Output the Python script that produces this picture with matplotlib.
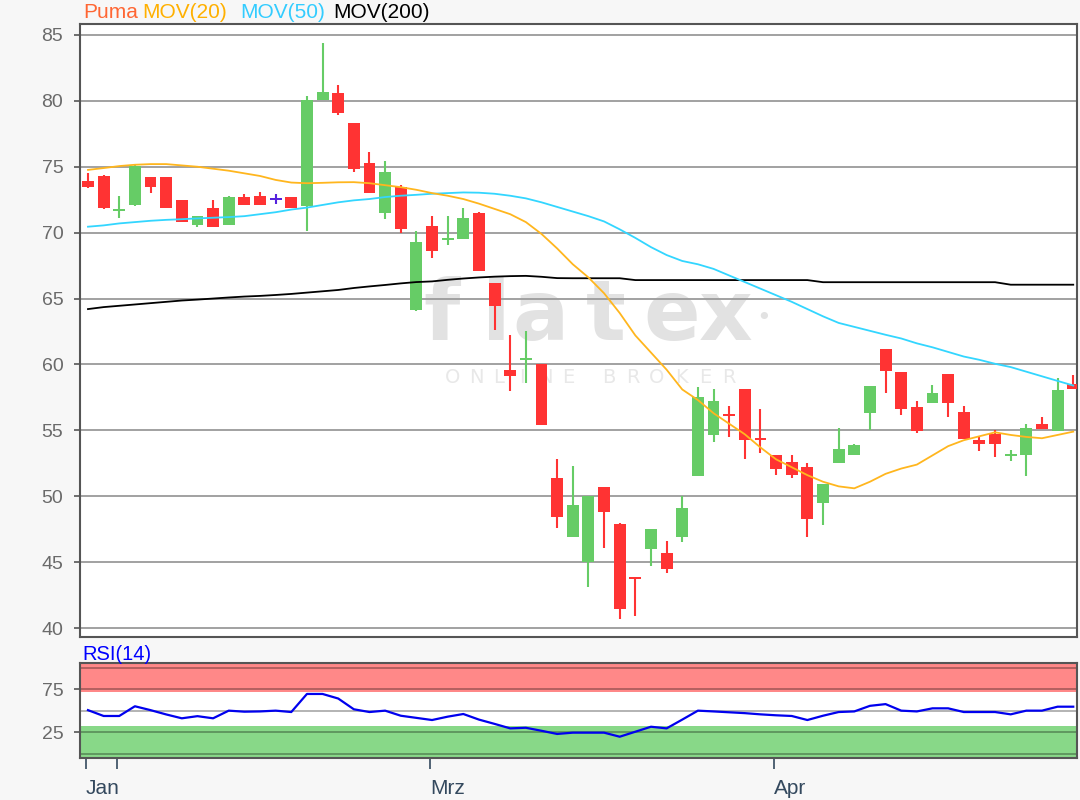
import matplotlib
matplotlib.use('Agg')
import matplotlib.pyplot as plt
import numpy as np

W, H = 1080, 800

# ---------------- data ----------------
opens = [73.9, 74.3, 71.65, 72.1, 74.2, 74.2, 72.5, 70.6, 71.9, 70.6,
         72.7, 72.8, 72.55, 72.7, 72.0, 80.1, 80.6, 78.3, 75.3, 71.5,
         73.5, 64.1, 70.5, 69.5, 69.5, 71.5, 66.2, 59.6, 60.35, 60.0,
         51.4, 46.9, 45.0, 50.7, 47.9, 43.8, 46.0, 45.7, 46.9, 51.5,
         54.65, 56.2, 58.1, 54.4, 53.1, 52.6, 52.2, 49.5, 52.55, 53.1,
         56.35, 61.15, 59.45, 56.75, 57.1, 59.3, 56.4, 54.3, 54.7, 53.1,
         53.1, 55.5, 54.95, 58.55]
highs = [74.5, 74.4, 72.8, 75.1, 74.2, 74.2, 72.5, 71.3, 72.5, 72.8,
         72.9, 73.1, 72.95, 72.7, 80.4, 84.4, 81.2, 78.3, 76.15, 75.4,
         73.6, 70.1, 71.3, 71.3, 71.9, 71.6, 66.2, 62.2, 62.5, 60.05,
         52.8, 52.3, 50.0, 50.7, 47.95, 43.8, 47.5, 46.6, 50.0, 58.3,
         58.1, 56.85, 58.1, 56.6, 53.1, 53.1, 52.5, 50.9, 55.2, 54.0,
         58.4, 61.15, 59.45, 57.2, 58.45, 59.3, 56.85, 54.5, 55.0, 53.5,
         55.45, 56.0, 58.95, 59.2]
lows = [73.4, 71.8, 71.1, 72.0, 73.0, 71.9, 70.8, 70.4, 70.4, 70.6,
        72.1, 72.1, 72.2, 71.9, 70.1, 80.1, 78.9, 74.6, 73.0, 71.0,
        69.95, 64.05, 68.1, 69.1, 69.5, 67.1, 62.6, 58.0, 58.6, 55.4,
        47.6, 46.9, 43.1, 46.1, 40.7, 40.9, 44.7, 44.15, 46.55, 51.5,
        54.1, 54.5, 52.8, 53.25, 51.6, 51.4, 46.9, 47.8, 52.55, 53.1,
        55.0, 57.8, 56.2, 54.8, 57.1, 56.0, 54.35, 53.4, 52.95, 52.7,
        51.5, 55.1, 54.95, 58.15]
closes = [73.5, 71.9, 71.75, 75.05, 73.5, 71.9, 70.8, 71.3, 70.4, 72.7,
          72.1, 72.1, 72.55, 71.9, 80.1, 80.7, 79.1, 74.8, 73.0, 74.6,
          70.25, 69.3, 68.6, 69.6, 71.1, 67.1, 64.4, 59.1, 60.45, 55.4,
          48.4, 49.3, 50.0, 48.8, 41.45, 43.75, 47.5, 44.5, 49.1, 57.5,
          57.2, 56.15, 54.3, 54.3, 52.1, 51.6, 48.3, 50.9, 53.55, 53.85,
          58.4, 59.5, 56.6, 54.95, 57.8, 57.1, 54.35, 54.0, 54.0, 53.15,
          55.2, 55.1, 58.05, 58.15]

mov20 = [74.76, 74.9, 75.05, 75.15, 75.2, 75.2, 75.1, 75.0, 74.85, 74.7,
         74.5, 74.3, 74.0, 73.8, 73.75, 73.78, 73.82, 73.83, 73.75, 73.6,
         73.45, 73.25, 73.0, 72.8, 72.55, 72.2, 71.8, 71.4, 70.8, 69.9,
         68.8, 67.6, 66.6, 65.4, 63.9, 62.2, 60.9, 59.6, 58.1, 57.3,
         56.3, 55.5, 54.7, 53.7, 52.8, 52.2, 51.6, 51.1, 50.75, 50.6,
         51.1, 51.7, 52.1, 52.4, 53.1, 53.8, 54.25, 54.55, 54.85, 54.65,
         54.5, 54.4, 54.65, 54.9]
mov50 = [70.45, 70.55, 70.7, 70.8, 70.9, 70.97, 71.02, 71.08, 71.13, 71.18,
         71.25, 71.4, 71.55, 71.75, 71.9, 72.1, 72.3, 72.45, 72.55, 72.7,
         72.8, 72.87, 72.95, 73.0, 73.05, 73.03, 72.95, 72.8, 72.6, 72.3,
         71.95, 71.6, 71.25, 70.85, 70.25, 69.6, 68.9, 68.3, 67.85, 67.6,
         67.25, 66.75, 66.25, 65.75, 65.25, 64.75, 64.2, 63.65, 63.15, 62.85,
         62.55, 62.25, 61.97, 61.6, 61.3, 60.95, 60.6, 60.35, 60.05, 59.8,
         59.45, 59.1, 58.75, 58.4]
mov200 = [64.2, 64.35, 64.45, 64.55, 64.65, 64.75, 64.85, 64.92, 65.0, 65.08,
          65.15, 65.2, 65.27, 65.35, 65.45, 65.55, 65.65, 65.8, 65.92, 66.03,
          66.15, 66.25, 66.3, 66.42, 66.52, 66.6, 66.66, 66.7, 66.72, 66.65,
          66.55, 66.54, 66.54, 66.54, 66.54, 66.4, 66.4, 66.4, 66.4, 66.4,
          66.4, 66.4, 66.4, 66.4, 66.4, 66.4, 66.4, 66.24, 66.24, 66.24,
          66.24, 66.24, 66.24, 66.24, 66.24, 66.24, 66.24, 66.24, 66.24, 66.05,
          66.05, 66.05, 66.05, 66.05]
rsi = [51, 44.2, 44.2, 55.5, 51, 46, 41.5, 44, 41.5, 50.4,
       49.2, 49.5, 50.4, 48.8, 69.8, 69.8, 64.5, 52, 48.8, 50.4,
       44.5, 42, 39.5, 43.4, 46.5, 40, 35, 29.8, 30.5, 27,
       23.3, 24.8, 24.8, 24.8, 20.1, 25.9, 31.7, 29.8, 40, 50.4,
       49.5, 48.5, 47.5, 46.1, 45, 44.2, 39.5, 44.5, 48.8, 49.5,
       56, 58, 50.4, 49.5, 53.1, 53.1, 48.8, 48.8, 48.8, 46.1,
       50.4, 50.4, 55, 55]

price_ticks = [40, 45, 50, 55, 60, 65, 70, 75, 80, 85]
rsi_ticks = [25, 75]
rsi_grid = [0, 25, 50, 75, 100]
month_idx = [0, 2, 22, 44]
month_labels = ['Jan', '', 'Mrz', 'Apr']
legend_names = ['Puma', 'MOV(20)', 'MOV(50)', 'MOV(200)']

# ---------------- style ----------------
plt.rcParams['font.family'] = ['Liberation Sans', 'DejaVu Sans']
RED, GREEN, PURPLE = '#ff3333', '#66cc66', '#5522dd'
C20, C50, C200 = '#ffb61e', '#33d6ff', '#000000'
SPINE = '#555555'
LABEL = '#6a6a6a'
XLAB = '#34495e'

fig = plt.figure(figsize=(W / 100, H / 100), dpi=100, facecolor='#f7f7f7')
bg = fig.add_axes([80 / W, 1 - 637 / H, 997 / W, 613 / H], zorder=-1)
ax = fig.add_axes([80 / W, 1 - 637 / H, 997 / W, 613 / H], zorder=1)
rx = fig.add_axes([80 / W, 1 - 758 / H, 997 / W, 95 / H], zorder=1)

# background panel with watermark (behind the price axes)
bg.set_facecolor('white')
bg.set_xticks([]); bg.set_yticks([])
for s in bg.spines.values():
    s.set_visible(False)
WM = '#e2e2e2'
for ch, px in zip('flatex', [442, 496, 540, 606, 672, 726]):
    bg.text(px / W, 1 - 340 / H, ch, fontsize=60, color=WM, ha='center',
            va='baseline', family='DejaVu Sans', fontweight='bold',
            transform=fig.transFigure)
bg.text(764 / W, 1 - 318 / H, '•', fontsize=18, color=WM, ha='center', va='center',
        family='DejaVu Sans', transform=fig.transFigure)
letters = 'ONLINEBROKER'
lx = [453 + 23.0 * k for k in range(6)] + [609 + 24.0 * k for k in range(6)]
for ch, px in zip(letters, lx):
    bg.text(px / W, 1 - 378 / H, ch, fontsize=14, color='#e8e8e8', ha='center',
            va='center', family='DejaVu Sans', transform=fig.transFigure)

ax.patch.set_alpha(0)

n = len(closes)
x = np.arange(n)
o = np.array(opens); c = np.array(closes)
hi = np.array(highs); lo = np.array(lows)

cols = [GREEN if cc > oo else (RED if cc < oo else PURPLE) for oo, cc in zip(o, c)]
mid = (o + c) / 2
hgt = np.maximum(np.abs(c - o), 0.16)
bot = mid - hgt / 2

# grid
for p in price_ticks:
    ax.axhline(p, color='#9a9a9a', lw=1.3, zorder=1)

# candles
ax.vlines(x, lo, hi, colors=cols, lw=1.5, zorder=2)
ax.bar(x, hgt, bottom=bot, width=0.76, color=cols, linewidth=0, zorder=3)

# moving averages
ax.plot(x, mov200, color=C200, lw=1.3, zorder=4)
ax.plot(x, mov50, color=C50, lw=1.3, zorder=4)
ax.plot(x, mov20, color=C20, lw=1.3, zorder=4)

ax.set_xlim(-0.51, 63.24)
ax.set_ylim(39.32, 85.83)
ax.set_yticks(price_ticks)
ax.set_yticklabels([str(p) for p in price_ticks])
ax.tick_params(axis='y', length=4, width=1.2, color=SPINE, labelcolor=LABEL,
               labelsize=14, pad=8)
ax.tick_params(axis='x', bottom=False, labelbottom=False)
for s in ax.spines.values():
    s.set_color(SPINE); s.set_linewidth(1.5)

# legend text
leg_cols = ['#ff6633', '#ffb000', '#33ccff', '#000000']
for name, col, px in zip(legend_names, leg_cols, [83, 142, 240, 333]):
    fig.text(px / W, 1 - 13 / H, name, color=col, fontsize=15, ha='left', va='center')

# RSI panel
rx.set_facecolor('white')
rx.axhspan(72, 110, color='#ff8888', lw=0, zorder=1)
rx.axhspan(-10, 32.5, color='#88d888', lw=0, zorder=1)
for g in rsi_grid:
    rx.axhline(g, color='black', alpha=0.32, lw=1.3, zorder=2)
rx.plot(x, rsi, color='#0000ee', lw=1.6, zorder=3)
rx.set_xlim(-0.51, 63.24)
rx.set_ylim(-4.65, 105.8)
rx.set_yticks(rsi_ticks)
rx.set_yticklabels([str(t) for t in rsi_ticks])
rx.tick_params(axis='y', length=4, width=1.2, color=SPINE, labelcolor=LABEL,
               labelsize=14, pad=8)
rx.set_xticks([m - 0.12 for m in month_idx])
rx.set_xticklabels(month_labels, ha='left')
rx.tick_params(axis='x', length=8, width=1.2, color=XLAB, labelcolor=XLAB,
               labelsize=15, pad=7)
for s in rx.spines.values():
    s.set_color(SPINE); s.set_linewidth(1.5)
fig.text(82 / W, 1 - 654 / H, 'RSI(14)', color='#0000ff', fontsize=14.5, ha='left', va='center')

fig.savefig('out.png', dpi=100, facecolor=fig.get_facecolor())
